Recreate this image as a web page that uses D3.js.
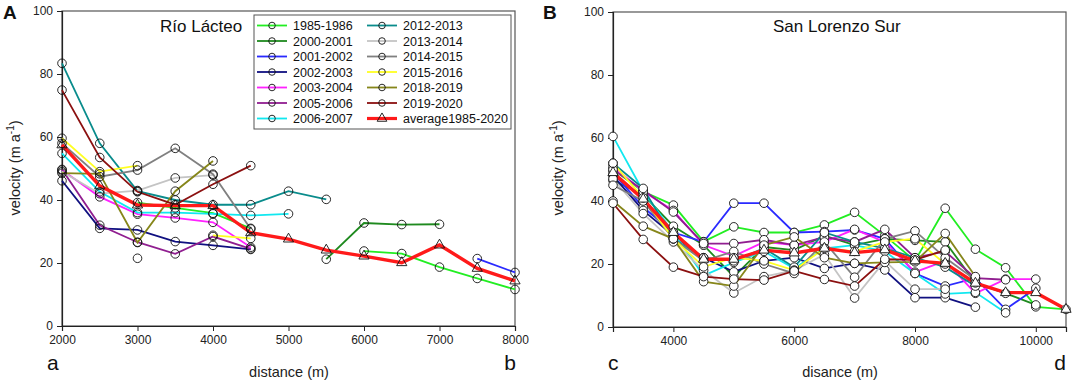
<!DOCTYPE html>
<html lang="en">
<head>
<meta charset="UTF-8">
<title>Glacier velocity</title>
<script src="https://cdnjs.cloudflare.com/ajax/libs/d3/7.8.5/d3.min.js"></script>
<style>
  body { margin: 0; background: #fff; }
  text { font-family: Arial, "Liberation Sans", sans-serif; }
</style>
</head>
<body>
<svg width="1072" height="383"></svg>
<script>
"use strict";

// ---- data ----
const years = ["1985-1986", "2000-2001", "2001-2002", "2002-2003", "2003-2004", "2005-2006", "2006-2007",
               "2012-2013", "2013-2014", "2014-2015", "2015-2016", "2018-2019", "2019-2020"];
const avgLabel = "average1985-2020";

// Río Lácteo, distance 2000..8000 step 500
const lacDist = [2000, 2500, 3000, 3500, 4000, 4500, 5000, 5500, 6000, 6500, 7000, 7500, 8000];
const lac1985 = [null, null, 39.2, 37.5, 35.8, 31, null, null, 23.8, 23, 18.7, 15.1, 11.6];
const lac2000 = [null, null, null, null, null, null, null, 21.2, 32.7, 32.2, 32.3, null, null];
const lac2001 = [null, null, 21.5, null, null, null, null, null, null, null, null, 21.4, 17];
const lac2002 = [46.1, 31, 30.5, 26.8, 25.6, 24.3, null, null, null, null, null, null, null];
const lac2003 = [49.5, 41, 35.5, 34.3, 32.9, 25, null, null, null, null, null, null, null];
const lac2005 = [49.7, 32, 26.6, 22.9, 28.4, 24.5, null, null, null, null, null, null, null];
const lac2006 = [54.8, 42.6, 36, 36, 35.6, 35.1, 35.6, null, null, null, null, null, null];
const lac2012 = [83.4, 58, 42.8, 40, 38.5, 38.5, 42.8, 40.2, null, null, null, null, null];
const lac2013 = [49, 42, 43, 47, 47.9, null, null, null, null, null, null, null, null];
const lac2014 = [58, 47.4, 49.5, 56.4, 48.2, 30.8, null, null, null, null, null, null, null];
const lac2015 = [59.6, 49, 50.9, null, 28.8, 27.8, null, null, null, null, null, null, null];
const lac2018 = [48.5, 48.3, 26.5, 42.8, 52.4, null, null, null, null, null, null, null, null];
const lac2019 = [74.9, 53.5, 42.6, 38.5, 45, 50.9, null, null, null, null, null, null, null];
const lacAvg  = [57.5, 44.5, 38.4, 38.2, 38.2, 29.6, 27.6, 24.1, 22.2, 20.1, 25.7, 18.3, 14.3];

// San Lorenzo Sur, distance 3000..10500 step 500
const slDist = [3000, 3500, 4000, 4500, 5000, 5500, 6000, 6500, 7000, 7500, 8000, 8500, 9000, 9500, 10000, 10500];
const sl1985 = [50, 43, 38.7, 27.1, 31.8, 30, 30, 32.4, 36.4, 29, 21, 37.7, 24.7, 18.8, 6.4, 5.6];
const sl2000 = [46.5, 42, 32, 26, 16, 25.4, 24.4, 29, 26, 28, 27.5, 27, 14, 10.7, 7, null];
const sl2001 = [49, 38, 30, 27, 39.3, 39.3, 30, 30.3, 30.8, 28, 17, 13, 15.5, 5.6, 12.3, null];
const sl2002 = [48, 37, 29, 22, 17.5, 21, 22, 18.6, 20.2, 18.1, 9.3, 9.3, 6.3, null, null, null];
const sl2003 = [51, 43, 37, 26, 22.5, 27, 26, 27, 31, 27, 17.4, 21, 10.7, 15.2, 15.2, null];
const sl2005 = [50, 43.5, 36.5, 26.5, 26.5, 27.7, 26, 28.5, 27, 31, 22, 24, 15.5, 15, null, null];
const sl2006 = [60.5, 43, 30, 16.3, 20.5, 24, 18.6, 25, 26, 24, 17, 10.5, 11, 4.5, null, null];
const sl2012 = [52, 44, 28, 22, 21, 25, 19, 30, 27, 25, 22, 19, 13, null, null, null];
const sl2013 = [47, 36, 27, 18, 10.8, 16, 18, 23, 9.2, 21, 12, 12, null, null, null, null];
const sl2014 = [45, 40, 28, 21, 24, 20, 17, 27, 15.8, 28, 30.5, 22, 15, null, null, null];
const sl2015 = [52, 41, 28, 19.1, 22, 21, 18, 25, 24, 27, 28, 20, 14, null, null, null];
const sl2018 = [40, 32, 28, 14.4, 13, 26, 28.6, 22, 20.2, 20.5, 20.7, 29.7, 16, null, null, null];
const sl2019 = [39.3, 27.8, 19, 16, 15.2, 14.9, 17.8, 15.1, 13, 21.5, 21.3, 24.4, null, null, null, null];
const slAvg  = [49, 40.6, 30, 21.5, 21.5, 24.4, 23.5, 25, 23.6, 24.5, 21, 20.2, 13.9, 10.9, 10.9, 5.6];

const yTicks = [0, 20, 40, 60, 80, 100];
const lacTicks = [2000, 3000, 4000, 5000, 6000, 7000, 8000];
const slTicks = [4000, 6000, 8000, 10000];

const colors = ["#22ee22", "#1f8a1f", "#2a2aff", "#101080", "#ff22ff", "#901e90", "#11e8f0",
                "#0a8c8c", "#c4c4c4", "#808080", "#ffff22", "#86861a", "#8b1010"];
const avgColor = "#ff1a1a";

const svg = d3.select("svg");

function drawPanel(opt) {
    const x = d3.scaleLinear().domain(opt.xDomain).range([opt.left, opt.right]);
    const y = d3.scaleLinear().domain([0, 100]).range([opt.bottom, opt.top]);
    const g = svg.append("g");

    g.append("rect")
        .attr("x", opt.left).attr("y", opt.top)
        .attr("width", opt.right - opt.left).attr("height", opt.bottom - opt.top)
        .attr("fill", "none").attr("stroke", "#555").attr("stroke-width", 1.2);

    const xAxis = g.append("g")
        .attr("transform", `translate(0,${opt.bottom})`)
        .call(d3.axisBottom(x).tickValues(opt.xTicks).tickSize(5).tickPadding(4).tickFormat(d3.format("d")));
    const yAxis = g.append("g")
        .attr("transform", `translate(${opt.left},0)`)
        .call(d3.axisLeft(y).tickValues(yTicks).tickSize(5).tickPadding(4));
    [xAxis, yAxis].forEach(a => {
        a.select(".domain").attr("stroke", "#222").attr("stroke-width", 1.2);
        a.selectAll(".tick line").attr("stroke", "#222");
        a.selectAll("text").attr("font-size", 12).attr("fill", "#222");
    });

    const line = d3.line()
        .defined(d => d[1] != null)
        .x(d => x(d[0])).y(d => y(d[1]));

    const series = opt.series.map((vals, i) => ({
        color: colors[i],
        pts: opt.dist.map((d, j) => [d, vals[j]])
    }));
    const avg = opt.dist.map((d, j) => [d, opt.avg[j]]);

    series.forEach(s => {
        g.append("path").datum(s.pts)
            .attr("d", line).attr("fill", "none")
            .attr("stroke", s.color).attr("stroke-width", 1.8);
    });
    g.append("path").datum(avg)
        .attr("d", line).attr("fill", "none")
        .attr("stroke", avgColor).attr("stroke-width", 3.4);

    series.forEach(s => {
        g.selectAll(null).data(s.pts.filter(p => p[1] != null)).enter()
            .append("circle")
            .attr("cx", d => x(d[0])).attr("cy", d => y(d[1])).attr("r", 4.3)
            .attr("fill", opt.markerFill).attr("stroke", "#111").attr("stroke-width", 0.9);
    });
    const tri = d3.symbol(d3.symbolTriangle, 45);
    g.selectAll(null).data(avg.filter(p => p[1] != null)).enter()
        .append("path")
        .attr("d", tri)
        .attr("transform", d => `translate(${x(d[0])},${y(d[1])})`)
        .attr("fill", opt.markerFill).attr("stroke", "#111").attr("stroke-width", 0.9);

    // titles and labels
    g.append("text").attr("x", opt.titleX).attr("y", 32)
        .attr("font-size", 17).attr("fill", "#111").text(opt.title);
    g.append("text").attr("x", opt.panelX).attr("y", 19)
        .attr("font-size", 19).attr("font-weight", "bold").attr("fill", "#111").text(opt.panel);
    g.append("text").attr("x", opt.xLabelX).attr("y", 377).attr("text-anchor", "middle")
        .attr("font-size", 14.5).attr("fill", "#222").text(opt.xLabel);

    const yl = g.append("text")
        .attr("transform", `translate(${opt.yLabelX},168) rotate(-90)`)
        .attr("text-anchor", "middle").attr("font-size", 14.5).attr("fill", "#222");
    yl.append("tspan").text("velocity (m a");
    yl.append("tspan").attr("dy", -6).attr("font-size", 10).text("-1");
    yl.append("tspan").attr("dy", 6).text(")");

    g.append("text").attr("x", opt.leftLetterX).attr("y", 370)
        .attr("font-size", 21).attr("fill", "#111").text(opt.leftLetter);
    g.append("text").attr("x", opt.rightLetterX).attr("y", 370).attr("text-anchor", "end")
        .attr("font-size", 21).attr("fill", "#111").text(opt.rightLetter);

    return g;
}

drawPanel({
    left: 62, right: 515, top: 11, bottom: 326,
    xDomain: [2000, 8000], xTicks: lacTicks, dist: lacDist,
    series: [lac1985, lac2000, lac2001, lac2002, lac2003, lac2005, lac2006,
             lac2012, lac2013, lac2014, lac2015, lac2018, lac2019],
    avg: lacAvg, markerFill: "none",
    title: "Río Lácteo", titleX: 160, panel: "A", panelX: 3,
    xLabel: "distance (m)", xLabelX: 289, yLabelX: 20,
    leftLetter: "a", leftLetterX: 47, rightLetter: "b", rightLetterX: 516
});

drawPanel({
    left: 613, right: 1066, top: 12, bottom: 327,
    xDomain: [3000, 10500], xTicks: slTicks, dist: slDist,
    series: [sl1985, sl2000, sl2001, sl2002, sl2003, sl2005, sl2006,
             sl2012, sl2013, sl2014, sl2015, sl2018, sl2019],
    avg: slAvg, markerFill: "#fff",
    title: "San Lorenzo Sur", titleX: 773, panel: "B", panelX: 543,
    xLabel: "disance (m)", xLabelX: 840, yLabelX: 563,
    leftLetter: "c", leftLetterX: 608, rightLetter: "d", rightLetterX: 1066
});

// legend for the left panel
const legend = svg.append("g");
legend.append("rect").attr("x", 254).attr("y", 15).attr("width", 257).attr("height", 114)
    .attr("fill", "#fff").attr("stroke", "#555").attr("stroke-width", 1);
const items = years.map((yr, i) => ({ label: yr, color: colors[i], avg: false }))
    .concat([{ label: avgLabel, color: avgColor, avg: true }]);
items.forEach((it, i) => {
    const col = Math.floor(i / 7), row = i % 7;
    const lx = col === 0 ? 257 : 367;
    const cy = 25.5 + row * 15.5;
    const e = legend.append("g");
    e.append("line").attr("x1", lx).attr("x2", lx + 30).attr("y1", cy).attr("y2", cy)
        .attr("stroke", it.color).attr("stroke-width", it.avg ? 3.2 : 1.8);
    if (it.avg) {
        e.append("path").attr("d", d3.symbol(d3.symbolTriangle, 40))
            .attr("transform", `translate(${lx + 15},${cy})`)
            .attr("fill", "none").attr("stroke", "#111").attr("stroke-width", 0.9);
    } else {
        e.append("circle").attr("cx", lx + 15).attr("cy", cy).attr("r", 3.3)
            .attr("fill", "none").attr("stroke", "#111").attr("stroke-width", 0.9);
    }
    e.append("text").attr("x", lx + 36).attr("y", cy + 4.5)
        .attr("font-size", 12.5).attr("fill", "#111").text(it.label);
});
</script>
</body>
</html>
